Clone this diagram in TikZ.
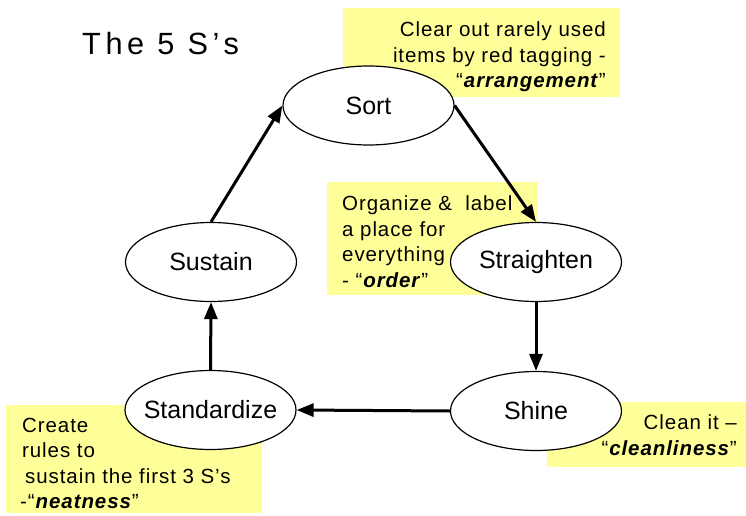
\documentclass[tikz,border=0pt]{standalone}
\usepackage{fontspec}
\setmainfont{Liberation Sans}
\newfontfamily\notefont[LetterSpace=4.5]{Liberation Sans}
\newfontfamily\headfont[LetterSpace=15]{Liberation Sans}
\usetikzlibrary{shapes.geometric,arrows.meta}
\definecolor{noteyellow}{HTML}{FFFF99}

\begin{document}
\begin{tikzpicture}[x=1pt,y=-1pt,
  % labels are boxed to zero width so every ellipse keeps the same size
  stage/.style={ellipse, draw=black, line width=1.2pt, fill=white,
    minimum width=171pt, minimum height=79pt, inner sep=0pt,
    font=\fontsize{25}{30}\selectfont,
    execute at begin node={\hbox to 0pt\bgroup\hss},
    execute at end node={\hss\egroup}},
  notebg/.style={fill=noteyellow, draw=none, inner sep=0pt, anchor=north west},
  notetext/.style={inner sep=0pt, font=\notefont\fontsize{20.5}{25.5}\selectfont},
  flow/.style={line width=3pt, -{Triangle[length=17pt,width=13pt]}}
]
\useasboundingbox (0,0) rectangle (746,516);

% title
\node[anchor=base west, inner sep=0pt, font=\headfont\fontsize{30.7}{36}\selectfont]
  (title) at (82,55) {The 5 S’s};

% yellow note backgrounds
\node[notebg, minimum width=277pt, minimum height=89pt]  (sortbg)  at (343,8)   {};
\node[notebg, minimum width=211pt, minimum height=113pt] (strbg)   at (327,182) {};
\node[notebg, minimum width=256pt, minimum height=108pt] (stdbg)   at (6,405)   {};
\node[notebg, minimum width=199pt, minimum height=65pt]  (shinebg) at (547,402) {};

% note texts
\node[notetext, anchor=north east, align=right] (sortnote) at (606,21.5)
  {Clear out rarely used\\items by red tagging -\\“\textbf{\textit{arrangement}}”};
\node[notetext, anchor=north west, align=left] (strnote) at (342,195.7)
  {Organize \&\ \ label\\a place for\\everything\\- “\textbf{\textit{order}}”};
\node[notetext, anchor=north west, align=left] (stdnote) at (22,417.7)
  {Create\\rules to\\\hspace*{3pt}sustain the first 3 S’s\\\hspace*{-2pt}-“\textbf{\textit{neatness}}”};
\node[notetext, anchor=north east, align=right] (shinenote) at (737,414.7)
  {Clean it –\\“\textbf{\textit{cleanliness}}”};

% the five stages
\node[stage] (sort)        at (368.5,105.5) {Sort};
\node[stage] (straighten)  at (536,262)     {Straighten};
\node[stage] (shine)       at (536,411)     {Shine};
\node[stage] (standardize) at (210.5,410)   {Standardize};
\node[stage] (sustain)     at (211,262)     {Sustain};

% the cycle
\draw[flow] (sort.east) -- (straighten.north);
\draw[flow] (straighten.south) -- (shine.north);
\draw[flow] (shine.west) -- (standardize.east);
\draw[flow] (standardize.north) -- (sustain.south);
\draw[flow] (sustain.north) -- (sort.west);
\end{tikzpicture}
\end{document}
